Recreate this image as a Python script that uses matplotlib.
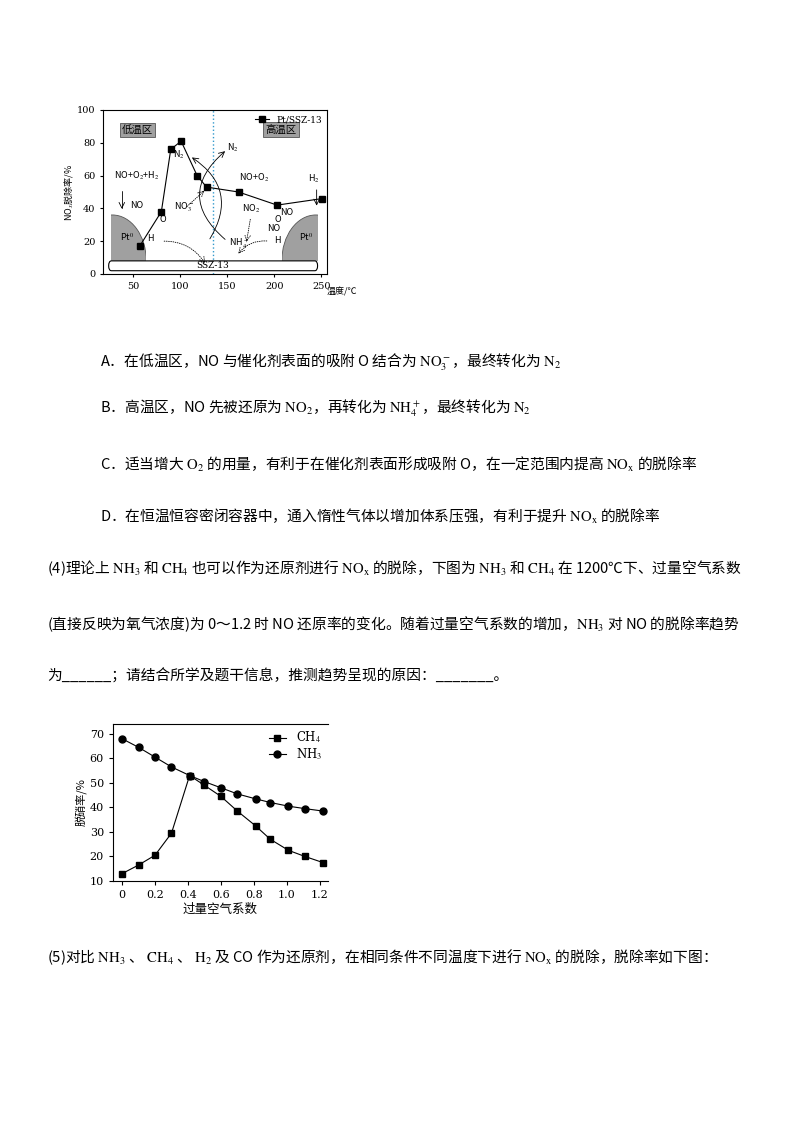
import matplotlib
matplotlib.use("Agg")
import matplotlib.pyplot as plt
from matplotlib.patches import FancyBboxPatch, Ellipse, Rectangle

plt.rcParams['font.family'] = ['Noto Sans CJK SC', 'DejaVu Sans']
plt.rcParams['mathtext.fontset'] = 'stix'

W, H = 800, 1132
fig = plt.figure(figsize=(8, 11.32), dpi=100)

def ax_px(l, t, r, b):
    return fig.add_axes([l / W, 1 - b / H, (r - l) / W, (b - t) / H])

# ---------- top chart data ----------
temp = [57, 80, 90, 101, 118, 128, 162, 203, 251]
rate = [17, 38, 76, 81, 60, 53, 50, 42, 46]
top_xticks = [50, 100, 150, 200, 250]
top_yticks = [0, 20, 40, 60, 80, 100]

ax = ax_px(103, 110, 327, 274)
ax.set_xlim(18, 256)
ax.set_ylim(0, 100)
ax.plot(temp, rate, '-s', color='black', ms=4, lw=0.8, label='Pt/SSZ-13', zorder=5)
ax.set_xticks(top_xticks)
ax.set_yticks(top_yticks)
ax.tick_params(labelsize=7, length=2, direction='out')
for lab in ax.get_xticklabels() + ax.get_yticklabels():
    lab.set_family('DejaVu Serif')
ax.set_ylabel(r'NO$_x$脱除率/%', fontsize=6.5, labelpad=1)
ax.text(1.0, -0.08, '温度/℃', transform=ax.transAxes, fontsize=6.5, ha='left', va='top')
ax.legend(loc='upper right', prop={'family': 'DejaVu Serif', 'size': 6.5}, frameon=False,
          handlelength=1.5, borderaxespad=0.2)
ax.axvline(135, color='#3399cc', ls=':', lw=1)
# decorations
ax.add_patch(FancyBboxPatch((24, 2), 222, 6, boxstyle='round,pad=0,rounding_size=3',
                            fc='white', ec='black', lw=0.8, zorder=3))
ax.text(135, 5, 'SSZ-13', fontsize=6.5, ha='center', va='center', zorder=4, family='DejaVu Serif')
for cx, rx0 in [(28, 26), (244, 208)]:
    clip = Rectangle((rx0, 8), 38, 30, transform=ax.transData, fc='none', ec='none')
    ax.add_patch(clip)
    e = Ellipse((cx, 8), 72, 56, fc='#a0a0a0', ec='#555555', lw=0.6, zorder=2)
    ax.add_patch(e)
    e.set_clip_path(clip)
ax.text(36, 20, r'Pt$^0$', fontsize=6.5, zorder=4)
ax.text(226, 20, r'Pt$^0$', fontsize=6.5, zorder=4)
ax.text(55, 88, '低温区', fontsize=7.5, ha='center', va='center',
        bbox=dict(fc='#a0a0a0', ec='#555555', lw=0.6, pad=1.5))
ax.text(207, 88, '高温区', fontsize=7.5, ha='center', va='center',
        bbox=dict(fc='#a0a0a0', ec='#555555', lw=0.6, pad=1.5))
fs = 6.5
ax.text(30, 58, r'NO+O$_2$+H$_2$', fontsize=fs)
ax.text(47, 40, 'NO', fontsize=fs)
ax.text(78, 32, 'O', fontsize=fs)
ax.text(93, 39, r'NO$_3^-$', fontsize=fs)
ax.text(92, 71, r'N$_2$', fontsize=fs)
ax.text(65, 20, 'H', fontsize=fs)
ax.text(162, 57, r'NO+O$_2$', fontsize=fs)
ax.text(166, 38, r'NO$_2$', fontsize=fs)
ax.text(200, 32, 'O', fontsize=fs)
ax.text(206, 36, 'NO', fontsize=fs)
ax.text(192, 26, 'NO', fontsize=fs)
ax.text(200, 19, 'H', fontsize=fs)
ax.text(152, 17, r'NH$_4^+$', fontsize=fs)
ax.text(150, 75, r'N$_2$', fontsize=fs)
ax.text(236, 56, r'H$_2$', fontsize=fs)
arr = dict(arrowstyle='->', lw=0.6, color='black')
ax.annotate('', xy=(38, 38), xytext=(38, 52), arrowprops=dict(arrowstyle='->', lw=0.6, connectionstyle='angle,angleA=0,angleB=90'))
ax.annotate('', xy=(110, 72), xytext=(130, 20), arrowprops=dict(arrowstyle='->', lw=0.6, connectionstyle='arc3,rad=0.5'))
ax.annotate('', xy=(150, 76), xytext=(150, 20), arrowprops=dict(arrowstyle='->', lw=0.6, connectionstyle='arc3,rad=-0.6'))
ax.annotate('', xy=(245, 40), xytext=(245, 53), arrowprops=arr)
ax.annotate('', xy=(128, 5), xytext=(80, 20), arrowprops=dict(arrowstyle='->', lw=0.6, ls=':', connectionstyle='arc3,rad=-0.3'))
ax.annotate('', xy=(160, 11), xytext=(195, 20), arrowprops=dict(arrowstyle='->', lw=0.6, ls=':', connectionstyle='arc3,rad=0.3'))
ax.annotate('', xy=(170, 18), xytext=(175, 35), arrowprops=dict(arrowstyle='->', lw=0.6, ls=':'))
ax.annotate('', xy=(128, 52), xytext=(105, 40), arrowprops=dict(arrowstyle='->', lw=0.6, ls=':'))

# ---------- body text ----------
tfs = 10.6
lines = [
    (100, 362, r'A．在低温区，NO 与催化剂表面的吸附 O 结合为 $\mathrm{NO_3^-}$，最终转化为 $\mathrm{N_2}$'),
    (100, 408, r'B．高温区，NO 先被还原为 $\mathrm{NO_2}$，再转化为 $\mathrm{NH_4^+}$，最终转化为 $\mathrm{N_2}$'),
    (100, 464, r'C．适当增大 $\mathrm{O_2}$ 的用量，有利于在催化剂表面形成吸附 O，在一定范围内提高 $\mathrm{NO_x}$ 的脱除率'),
    (100, 516, r'D．在恒温恒容密闭容器中，通入惰性气体以增加体系压强，有利于提升 $\mathrm{NO_x}$ 的脱除率'),
    (47, 568, r'(4)理论上 $\mathrm{NH_3}$ 和 $\mathrm{CH_4}$ 也可以作为还原剂进行 $\mathrm{NO_x}$ 的脱除，下图为 $\mathrm{NH_3}$ 和 $\mathrm{CH_4}$ 在 1200℃下、过量空气系数'),
    (47, 624, r'(直接反映为氧气浓度)为 0～1.2 时 NO 还原率的变化。随着过量空气系数的增加，$\mathrm{NH_3}$ 对 NO 的脱除率趋势'),
    (47, 676, '为______；请结合所学及题干信息，推测趋势呈现的原因：_______。'),
    (47, 957, r'(5)对比 $\mathrm{NH_3}$ 、 $\mathrm{CH_4}$ 、 $\mathrm{H_2}$ 及 CO 作为还原剂，在相同条件不同温度下进行 $\mathrm{NO_x}$ 的脱除，脱除率如下图：'),
]
for x, y, s in lines:
    fig.text(x / W, 1 - y / H, s, fontsize=tfs, va='center', ha='left')

# ---------- bottom chart data ----------
coef = [0, 0.1, 0.2, 0.3, 0.41, 0.5, 0.6, 0.7, 0.81, 0.9, 1.01, 1.11, 1.22]
ch4 = [13, 16.5, 20.5, 29.5, 53, 49, 44.5, 38.5, 32.5, 27, 22.5, 20, 17.5]
nh3 = [68, 64.5, 60.5, 56.5, 53, 50.5, 48, 45.5, 43.5, 42, 40.5, 39.5, 38.5]
bx_ticks = [0, 0.2, 0.4, 0.6, 0.8, 1.0, 1.2]
by_ticks = [10, 20, 30, 40, 50, 60, 70]

bx = ax_px(113, 724, 328, 881)
bx.set_xlim(-0.055, 1.25)
bx.set_ylim(10, 74)
bx.plot(coef, ch4, '-s', color='black', ms=4.5, lw=0.8, label=r'CH$_4$')
bx.plot(coef, nh3, '-o', color='black', ms=5, lw=0.8, label=r'NH$_3$')
bx.set_xticks(bx_ticks)
bx.set_xticklabels(['0', '0.2', '0.4', '0.6', '0.8', '1.0', '1.2'])
bx.set_yticks(by_ticks)
bx.tick_params(labelsize=8, length=3)
for lab in bx.get_xticklabels() + bx.get_yticklabels():
    lab.set_family('DejaVu Serif')
bx.spines['right'].set_visible(False)
bx.set_xlabel('过量空气系数', fontsize=9, labelpad=2)
bx.set_ylabel('脱硝率/%', fontsize=8, labelpad=2)
bx.legend(loc='upper right', prop={'family': 'DejaVu Serif', 'size': 8.5}, frameon=False,
          handlelength=1.5, borderaxespad=0.1, labelspacing=0.1)

fig.savefig('out.png', dpi=100)
